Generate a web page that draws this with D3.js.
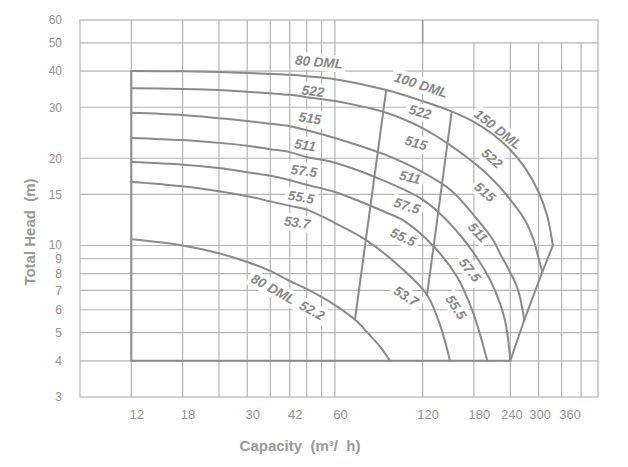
<!DOCTYPE html>
<html><head><meta charset="utf-8">
<script src="https://cdn.jsdelivr.net/npm/d3@7/dist/d3.min.js"></script>
<style>
body{margin:0;background:#fff;}
svg{display:block;font-family:"Liberation Sans",Arial,sans-serif;}
</style></head><body>
<script>
// ---- axis / grid values ----
const xTicks = [12, 18, 30, 42, 60, 120, 180, 240, 300, 360];
const xGridFull = [12, 18, 24, 30, 36, 42, 48, 54, 60, 120];
const xGridUpper = [180, 240, 300, 360, 420];
const yTicks = [60, 50, 40, 30, 20, 15, 10, 9, 8, 7, 6, 5, 4, 3];
const yGrid = [50, 40, 30, 20, 15, 10, 9, 8, 7, 6, 5, 4];

// ---- performance curves (capacity m3/h, head m) ----
const capacity22 = [12, 18, 24, 30, 36, 42, 48, 60, 90, 120, 150, 180, 210, 240, 270, 300, 321, 336];
const head22     = [40, 39.9, 39.7, 39.4, 39.1, 38.8, 38.4, 37.5, 34.4, 31.5, 29.1, 26.7, 24.1, 21.4, 18.5, 15.3, 12.7, 10.0];
const capacity15 = [12, 18, 24, 30, 36, 42, 48, 60, 90, 120, 150, 180, 210, 240, 270, 287, 300, 309];
const head15     = [34.9, 34.7, 34.4, 33.9, 33.5, 33.1, 32.5, 31.5, 28.7, 25.4, 22.1, 19.3, 16.8, 14.4, 12.2, 10.6, 9.05, 8.1];
const capacity11 = [12, 18, 24, 30, 36, 42, 48, 60, 90, 120, 150, 180, 210, 221, 253, 268];
const head11     = [28.7, 28.2, 27.5, 26.9, 26.3, 25.8, 25.0, 23.5, 20.5, 17.9, 15.5, 12.7, 10.4, 9.4, 7.2, 5.53];
const capacity7_5 = [12, 18, 24, 30, 36, 42, 48, 60, 90, 120, 145.5, 180, 210, 230, 240];
const head7_5     = [23.5, 23.1, 22.6, 22.1, 21.5, 21.0, 20.2, 19.3, 16.6, 14.4, 12.2, 9.4, 7.2, 5.53, 4.0];
const capacity5_5 = [12, 18, 24, 30, 36, 42, 48, 60, 90, 103, 130, 157.5, 179, 200];
const head5_5     = [19.4, 19.0, 18.5, 17.9, 17.4, 16.8, 16.2, 15.3, 13.0, 12.2, 10.0, 7.8, 5.85, 4.0];
const capacity3_7 = [12, 18, 24, 30, 36, 42, 48, 57.7, 77.3, 100.4, 124.3, 137.7, 149];
const head3_7     = [16.6, 16.0, 15.4, 14.8, 14.2, 13.7, 13.3, 12.2, 10.4, 8.43, 6.75, 5.32, 4.0];
const capacity2_2 = [12, 18, 24, 30, 36, 42, 48, 60, 70.3, 79, 86, 92.7];
const head2_2     = [10.5, 10.0, 9.4, 8.77, 8.17, 7.54, 7.08, 6.23, 5.55, 4.91, 4.46, 4.0];

// model boundaries (80 DML | 100 DML | 150 DML)
const boundary80Q = [90, 70.3];
const boundary80H = [34.4, 5.55];
const boundary100Q = [151, 124.3];
const boundary100H = [28.9, 6.75];
// operating range limits
const minCapacity = 12;
const minHead = 4;

// ---- curve labels ----
const labelText  = ["80 DML", "522", "515", "511", "57.5", "55.5", "53.7", "80 DML  52.2",
                    "100 DML", "522", "515", "511", "57.5", "55.5", "53.7",
                    "150 DML", "522", "515", "511", "57.5", "55.5"];
const labelQ     = [52.9, 50.5, 49.3, 47.4, 47.0, 45.9, 44.5, 41.4,
                    118.5, 117.6, 113.9, 108.6, 106.1, 102.8, 105.3,
                    217.8, 207.7, 196.5, 185.9, 174.6, 156.3];
const labelH     = [43.0, 34.1, 27.5, 22.2, 18.1, 14.7, 12.0, 6.64,
                    35.8, 28.9, 22.6, 17.2, 13.7, 10.7, 6.69,
                    25.2, 20.0, 15.3, 11.1, 8.23, 6.13];
const labelAngle = [5, 7, 8, 10, 8, 10, 9, 29,
                    18, 15, 16, 14, 18, 25, 33,
                    38, 42, 40, 47, 52, 57];

// ---- drawing ----
const W = 628, H = 467;
const svg = d3.select("body").append("svg").attr("width", W).attr("height", H);
const x = d3.scaleLog().domain([8, 480]).range([80, 598]);
const y = d3.scaleLog().domain([3, 60]).range([397, 20]);

const gridColor = "#b4b4b4", curveColor = "#8a8a8a", textColor = "#939393";

const grid = svg.append("g").attr("stroke", gridColor).attr("stroke-width", 1.2).attr("fill", "none");
grid.selectAll(".h").data(yGrid).join("line")
  .attr("x1", x(8)).attr("x2", x(480)).attr("y1", d => y(d)).attr("y2", d => y(d));
grid.selectAll(".vf").data(xGridFull).join("line").attr("class", "vf")
  .attr("x1", d => x(d)).attr("x2", d => x(d)).attr("y1", y(60)).attr("y2", y(3));
grid.selectAll(".vu").data(xGridUpper).join("line").attr("class", "vu")
  .attr("x1", d => x(d)).attr("x2", d => x(d)).attr("y1", y(50)).attr("y2", y(3));
grid.append("rect").attr("x", x(8)).attr("y", y(60))
  .attr("width", x(480) - x(8)).attr("height", y(3) - y(60));
// darker 120 segment in the top band
svg.append("line").attr("x1", x(120)).attr("x2", x(120)).attr("y1", y(60)).attr("y2", y(50))
  .attr("stroke", "#999").attr("stroke-width", 1.6);

// label backgrounds (break the grid)
const labelsData = labelText.map((t, i) => ({t, q: labelQ[i], h: labelH[i], a: labelAngle[i]}));
const bgG = svg.append("g");
const curveG = svg.append("g").attr("fill", "none").attr("stroke", curveColor)
  .attr("stroke-width", 2).attr("stroke-linejoin", "round").attr("stroke-linecap", "round");
const textG = svg.append("g");

const curves = [
  [capacity22, head22], [capacity15, head15], [capacity11, head11], [capacity7_5, head7_5],
  [capacity5_5, head5_5], [capacity3_7, head3_7], [capacity2_2, head2_2]
].map(([qs, hs]) => qs.map((q, i) => [q, hs[i]]));

const line = d3.line().x(d => x(d[0])).y(d => y(d[1])).curve(d3.curveCatmullRom.alpha(0.5));
const straight = d3.line().x(d => x(d[0])).y(d => y(d[1]));

curveG.selectAll(".c").data(curves).join("path").attr("class", "c").attr("d", line);

// envelope: left limit, bottom limit, right end-point line
curveG.append("path").attr("d", straight([[minCapacity, head22[0]], [minCapacity, minHead]]));
curveG.append("path").attr("d", straight([[minCapacity, minHead], [capacity7_5[capacity7_5.length - 1], minHead]]));
const ends = [curves[3], curves[2], curves[1], curves[0]].map(c => c[c.length - 1]);
curveG.append("path").attr("d", straight(ends));
// model boundaries
curveG.append("path").attr("d", straight(boundary80Q.map((q, i) => [q, boundary80H[i]])));
curveG.append("path").attr("d", straight(boundary100Q.map((q, i) => [q, boundary100H[i]])));

// labels
labelsData.forEach(d => {
  const g = textG.append("g").attr("transform", `translate(${x(d.q)},${y(d.h)}) rotate(${d.a})`);
  const t = g.append("text").text(d.t).attr("text-anchor", "middle").attr("dy", "0.35em")
    .attr("font-size", 13.5).attr("font-weight", "bold").attr("font-style", "italic")
    .attr("fill", "#888").style("white-space", "pre");
  const b = t.node().getBBox();
  bgG.append("rect").attr("transform", `translate(${x(d.q)},${y(d.h)}) rotate(${d.a})`)
    .attr("x", b.x - 3).attr("y", b.y - 1).attr("width", b.width + 6).attr("height", b.height + 2)
    .attr("fill", "#fff");
});

// axes
const xNudge = {240: 1, 300: 1, 360: 8};
const xAxis = svg.append("g").attr("transform", `translate(0,${y(3)})`)
  .call(d3.axisBottom(x).tickValues(xTicks).tickSize(0).tickPadding(13).tickFormat(d3.format("d")));
xAxis.select(".domain").remove();
xAxis.selectAll("text").attr("x", d => xNudge[d] !== undefined ? xNudge[d] : 5)
  .attr("fill", textColor).attr("font-size", 13)
  .attr("font-family", "Liberation Sans, Arial, sans-serif");

const yNudge = {10: -0.8};
const yAxis = svg.append("g").attr("transform", `translate(${x(8)},0)`)
  .call(d3.axisLeft(y).tickValues(yTicks).tickSize(0).tickPadding(18).tickFormat(d3.format("d")));
yAxis.select(".domain").remove();
yAxis.selectAll("text").attr("fill", textColor).attr("font-size", 12)
  .attr("y", d => yNudge[d] || 0)
  .attr("font-family", "Liberation Sans, Arial, sans-serif");

svg.append("text").attr("x", 300).attr("y", 451).attr("text-anchor", "middle")
  .attr("font-size", 15).attr("font-weight", "bold").attr("fill", "#999")
  .style("white-space", "pre").text("Capacity  (m\u00B3/  h)");
svg.append("text").attr("transform", "translate(35,232) rotate(-90)").attr("text-anchor", "middle")
  .attr("font-size", 15).attr("font-weight", "bold").attr("fill", "#999")
  .style("white-space", "pre").text("Total Head  (m)");
</script>
</body></html>
